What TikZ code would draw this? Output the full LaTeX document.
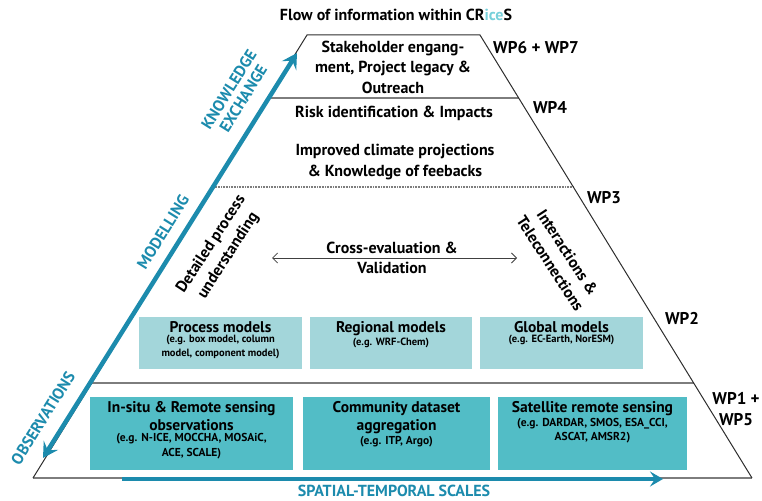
\documentclass[tikz,border=0pt]{standalone}
\usepackage{fontspec}
\setmainfont{PT Sans}
\usepackage{tikz}
\usetikzlibrary{arrows.meta}
\tikzstyle{pyramid} = [x = 1pt, y = -1pt]
\definecolor{arrowColor}{RGB}{28,139,173}
\definecolor{iceColor}{RGB}{120,208,218}
\definecolor{observationColor}{RGB}{82,189,198}
\definecolor{modelColor}{RGB}{163,214,218}
\definecolor{layerColor}{RGB}{125,125,125}
\definecolor{edgeColor}{RGB}{45,45,45}
\tikzstyle{edgeLine} = [color=edgeColor, line width=1pt]
\tikzstyle{layerLine} = [color=layerColor, line width=1.4pt]
\tikzstyle{layerDots} = [color=layerColor, line width=1.3pt, dash pattern=on .8pt off .8pt]
\tikzstyle{flowArrow} = [color=arrowColor, line width=4.5pt]
\tikzstyle{flowTips} = [{Stealth[length=15pt, width=17pt, inset=6pt]}-{Stealth[length=15pt, width=17pt, inset=6pt]}]
\tikzstyle{scaleTip} = [-{Stealth[length=13pt, width=15pt, inset=5pt]}]
\tikzstyle{crossArrow} = [color=black!75, line width=.8pt, {Straight Barb[length=5pt, width=10pt]}-{Straight Barb[length=5pt, width=10pt]}]
\tikzstyle{mainText} = [font=\bfseries\fontsize{16}{20.5}\selectfont, align=center, inner sep=0pt]
\tikzstyle{wpText} = [mainText, font=\bfseries\fontsize{17}{21}\selectfont]
\tikzstyle{axisText} = [mainText, color=arrowColor, font=\bfseries\fontsize{16}{17}\selectfont]
\tikzstyle{boxTitle} = [font=\bfseries\fontsize{15.5}{18.5}\selectfont, align=center, inner sep=0pt, anchor=north]
\tikzstyle{boxExample} = [font=\bfseries\fontsize{10.5}{14.5}\selectfont, align=center, inner sep=0pt, anchor=north]
\tikzstyle{obsExample} = [boxExample, font=\bfseries\fontsize{11.5}{14.5}\selectfont]
\newcommand{\leftX}[1]{307 - .619 * (#1 - 35)}
\newcommand{\rightX}[1]{480 + .614 * (#1 - 35)}
\newcommand{\layerBorder}[2]{\draw [#2] ({\leftX{#1}}, #1) -- ({\rightX{#1}}, #1);}
\newcommand{\exampleBox}[9]{
  \fill [#6] (#2, #3) rectangle (#4, #5);
  \node (#1Title) [boxTitle] at ({(#2 + #4) / 2}, #3 + 4) {#7};
  \node (#1Examples) [#9] at ([yshift=-2pt]#1Title.south) {#8};
}

\begin{document}
\begin{tikzpicture}[pyramid]
  \useasboundingbox (0,0) rectangle (762,500);

  \exampleBox{process}{139}{317}{302}{369}{modelColor}{Process models}{(e.g. box model, column\\model, component model)}{boxExample}
  \exampleBox{regional}{310}{317}{472}{369}{modelColor}{Regional models}{(e.g. WRF-Chem)}{boxExample}
  \exampleBox{global}{480}{317}{643}{369}{modelColor}{Global models}{(e.g. EC-Earth, NorESM)}{boxExample}
  \exampleBox{insitu}{90}{397}{293}{470}{observationColor}{In-situ \& Remote sensing\\observations}{(e.g. N-ICE, MOCCHA, MOSAiC,\\ACE, SCALE)}{obsExample}
  \exampleBox{community}{303}{397}{490}{470}{observationColor}{Community dataset\\aggregation}{(e.g. ITP, Argo)}{obsExample}
  \exampleBox{satellite}{498}{397}{687}{470}{observationColor}{Satellite remote sensing}{(e.g. DARDAR, SMOS, ESA\_CCI,\\ASCAT, AMSR2)}{obsExample}

  \coordinate (baseLeft) at (33, 478);
  \coordinate (topLeft) at (307, 35);
  \coordinate (topRight) at (480, 35);
  \coordinate (baseRight) at (752, 478);
  \layerBorder{98}{layerLine}
  \layerBorder{187}{layerDots}
  \layerBorder{383}{layerLine, line width=1.8pt}
  \draw [layerLine] (baseLeft) -- (baseRight);
  \draw [edgeLine] (baseLeft) -- (topLeft) -- (topRight) -- (baseRight);

  \coordinate (observationEnd) at (43, 458);
  \coordinate (exchangeEnd) at (297, 53);
  \coordinate (scaleStart) at (122, 479);
  \coordinate (scaleEnd) at (663, 479);
  \draw [flowArrow, flowTips] (observationEnd) -- (exchangeEnd);
  \draw [flowArrow, scaleTip] (scaleStart) -- (scaleEnd);

  \node (title) [mainText] at (396, 15) {Flow of information within CR\textcolor{iceColor}{ice}S};
  \node (stakeholder) [mainText] at (393, 67) {Stakeholder engang-\\ment, Project legacy \&\\Outreach};
  \node (risk) [mainText] at (394, 113) {Risk identification \& Impacts};
  \node (climate) [mainText] at (395, 162) {Improved climate projections\\\& Knowledge of feebacks};
  \node (cross) [mainText] at (392, 258) {Cross-evaluation \&\\Validation};
  \node (detailed) [mainText, rotate=57] at (220, 250) {Detailed process\\understanding};
  \node (interactions) [mainText, rotate=-57] at (559, 258) {Interactions \&\\Teleconnections};
  \coordinate (crossLeft) at (272, 258);
  \coordinate (crossRight) at (517, 258);
  \draw [crossArrow] (crossLeft) -- (crossRight);

  \node (wpTop) [wpText] at (536, 48) {WP6 + WP7};
  \node (wpRisk) [wpText] at (550, 108) {WP4};
  \node (wpClimate) [wpText] at (604, 198) {WP3};
  \node (wpModels) [wpText] at (682, 318) {WP2};
  \node (wpObs) [wpText] at (736, 409) {WP1 +\\WP5};

  \node (knowledge) [axisText, rotate=58] at (236, 94) {KNOWLEDGE\\EXCHANGE};
  \node (modelling) [axisText, rotate=58] at (163, 232) {MODELLING};
  \node (observations) [axisText, rotate=58] at (43, 418) {OBSERVATIONS};
  \node (scales) [axisText] at (394, 491) {SPATIAL-TEMPORAL SCALES};
\end{tikzpicture}
\end{document}
